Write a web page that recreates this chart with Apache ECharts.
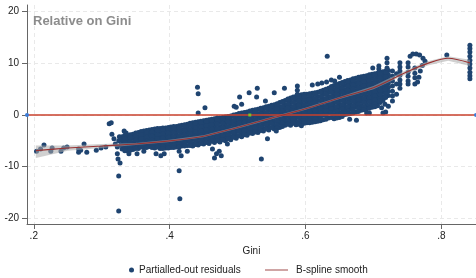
<!DOCTYPE html>
<html>
<head>
<meta charset="utf-8">
<script src="https://cdn.jsdelivr.net/npm/echarts@6/dist/echarts.min.js"></script>
<style>
  html, body { margin: 0; padding: 0; background: #fff; }
  #chart { width: 476px; height: 278px; }
</style>
</head>
<body>
<div id="chart"></div>
<script>
// axis ticks
const xTicks = [0.2, 0.4, 0.6, 0.8];
const yTicks = [-20, -10, 0, 10, 20];

// B-spline smooth and its band
const splineX = [0.203, 0.25, 0.30, 0.35, 0.40, 0.45, 0.50, 0.55, 0.60, 0.65, 0.70, 0.75, 0.78, 0.81, 0.842];
const splineY = [-6.9, -6.4, -6.0, -5.6, -5.0, -4.1, -2.4, -0.6, 1.2, 3.3, 5.3, 8.4, 10.0, 11.0, 10.1];
const ciLow   = [-8.3, -6.9, -6.4, -5.8, -5.2, -4.3, -2.6, -0.8, 1.0, 3.1, 5.0, 8.0, 9.6, 10.5, 9.5];
const ciHigh  = [-5.9, -5.9, -5.6, -5.4, -4.8, -3.9, -2.2, -0.4, 1.4, 3.5, 5.6, 8.8, 10.4, 11.4, 10.7];

// dense cloud, read column by column: [gini, residuals...]
const bandColumns = [
  [0.330, [-4.2, -5.0, -5.8, -6.6]],
  [0.338, [-4.0, -4.8, -5.6, -6.4, -6.9]],
  [0.346, [-3.7, -4.5, -5.3, -6.1, -6.7]],
  [0.354, [-3.4, -4.2, -5.0, -5.8, -6.5]],
  [0.362, [-3.1, -3.9, -4.7, -5.5, -6.3]],
  [0.370, [-2.9, -3.7, -4.5, -5.3, -6.1]],
  [0.378, [-2.7, -3.5, -4.3, -5.1, -5.9, -6.4]],
  [0.386, [-2.6, -3.4, -4.2, -5.0, -5.8, -6.5]],
  [0.394, [-2.5, -3.3, -4.1, -4.9, -5.7, -6.4]],
  [0.402, [-2.3, -3.1, -3.9, -4.7, -5.5, -6.3]],
  [0.410, [-2.2, -3.0, -3.8, -4.6, -5.4, -6.2]],
  [0.418, [-2.0, -2.8, -3.6, -4.4, -5.2, -6.0]],
  [0.426, [-1.8, -2.6, -3.4, -4.2, -5.0, -5.9]],
  [0.434, [-1.5, -2.3, -3.1, -3.9, -4.7, -5.5, -6.0]],
  [0.442, [-1.3, -2.1, -2.9, -3.7, -4.5, -5.3, -5.8]],
  [0.450, [-1.1, -1.9, -2.7, -3.5, -4.3, -5.1, -5.6]],
  [0.458, [-0.9, -1.7, -2.5, -3.3, -4.1, -4.9, -5.5]],
  [0.466, [-0.7, -1.5, -2.3, -3.1, -3.9, -4.7, -5.3]],
  [0.474, [-0.6, -1.4, -2.2, -3.0, -3.8, -4.6, -5.2]],
  [0.482, [-0.4, -1.2, -2.0, -2.8, -3.6, -4.4, -5.0]],
  [0.490, [-0.2, -1.0, -1.8, -2.6, -3.4, -4.2, -4.8]],
  [0.498, [0.1, -0.7, -1.5, -2.3, -3.1, -3.9, -4.5]],
  [0.506, [0.4, -0.4, -1.2, -2.0, -2.8, -3.6, -4.2]],
  [0.514, [0.6, -0.2, -1.0, -1.8, -2.6, -3.4, -3.9]],
  [0.522, [0.9, 0.1, -0.7, -1.5, -2.3, -3.1, -3.6]],
  [0.530, [1.1, 0.3, -0.5, -1.3, -2.1, -2.9, -3.4]],
  [0.538, [1.4, 0.6, -0.2, -1.0, -1.8, -2.6, -3.1]],
  [0.546, [1.7, 0.9, 0.1, -0.7, -1.5, -2.3, -2.9]],
  [0.554, [2.0, 1.2, 0.4, -0.4, -1.2, -2.0, -2.7]],
  [0.562, [2.4, 1.6, 0.8, 0.0, -0.8, -1.6, -2.4]],
  [0.570, [2.8, 2.0, 1.2, 0.4, -0.4, -1.2, -2.0]],
  [0.578, [3.3, 2.5, 1.7, 0.9, 0.1, -0.7, -1.5, -2.0]],
  [0.586, [3.6, 2.8, 2.0, 1.2, 0.4, -0.4, -1.2, -1.9]],
  [0.594, [3.9, 3.1, 2.3, 1.5, 0.7, -0.1, -0.9, -1.7]],
  [0.602, [4.0, 3.2, 2.4, 1.6, 0.8, 0.0, -0.8, -1.5]],
  [0.610, [4.2, 3.4, 2.6, 1.8, 1.0, 0.2, -0.6, -1.4]],
  [0.618, [4.4, 3.6, 2.8, 2.0, 1.2, 0.4, -0.4, -1.2]],
  [0.626, [4.8, 4.0, 3.2, 2.4, 1.6, 0.8, 0.0, -0.9]],
  [0.634, [5.2, 4.4, 3.6, 2.8, 2.0, 1.2, 0.4, -0.6]],
  [0.642, [5.7, 4.9, 4.1, 3.3, 2.5, 1.7, 0.9, 0.1, -0.7]],
  [0.650, [6.1, 5.3, 4.5, 3.7, 2.9, 2.1, 1.3, 0.5, -0.5]],
  [0.658, [6.5, 5.7, 4.9, 4.1, 3.3, 2.5, 1.7, 0.9, 0.1]],
  [0.666, [6.8, 6.0, 5.2, 4.4, 3.6, 2.8, 2.0, 1.2, 0.3]],
  [0.674, [7.1, 6.3, 5.5, 4.7, 3.9, 3.1, 2.3, 1.5, 0.6]],
  [0.682, [7.4, 6.6, 5.8, 5.0, 4.2, 3.4, 2.6, 1.8, 0.9]],
  [0.690, [7.6, 6.8, 6.0, 5.2, 4.4, 3.6, 2.8, 2.0, 1.2]],
  [0.698, [7.9, 7.1, 6.3, 5.5, 4.7, 3.9, 3.1, 2.3, 1.5]],
  [0.706, [8.1, 7.3, 6.5, 5.7, 4.9, 4.1, 3.3, 2.5, 1.8]],
  [0.714, [8.4, 7.6, 6.8, 6.0, 5.2, 4.4, 3.6, 2.8]],
  [0.722, [8.6, 7.8, 7.0, 6.2, 5.4, 4.6, 3.8]]
];

// the in-between columns of the same cloud
const bandColumnsMid = [
  [0.334, [-3.9, -4.6, -5.4, -6.2, -6.9]],
  [0.342, [-3.8, -4.4, -5.2, -6.0, -6.8]],
  [0.350, [-3.5, -4.1, -4.9, -5.7, -6.5]],
  [0.358, [-3.2, -3.8, -4.6, -5.4, -6.2]],
  [0.366, [-3.0, -3.5, -4.3, -5.1, -5.9, -6.3]],
  [0.374, [-2.8, -3.3, -4.1, -4.9, -5.7, -6.3]],
  [0.382, [-2.6, -3.0, -3.8, -4.6, -5.4, -6.2]],
  [0.390, [-2.5, -2.9, -3.7, -4.5, -5.3, -6.1, -6.5]],
  [0.398, [-2.4, -2.7, -3.5, -4.3, -5.1, -5.9, -6.4]],
  [0.406, [-2.2, -2.6, -3.4, -4.2, -5.0, -5.8, -6.3]],
  [0.414, [-2.1, -2.4, -3.2, -4.0, -4.8, -5.6, -6.2]],
  [0.422, [-1.9, -2.2, -3.0, -3.8, -4.6, -5.4, -6.0]],
  [0.430, [-1.6, -2.0, -2.8, -3.6, -4.4, -5.2, -5.9]],
  [0.438, [-1.4, -1.7, -2.5, -3.3, -4.1, -4.9, -5.7]],
  [0.446, [-1.2, -1.5, -2.3, -3.1, -3.9, -4.7, -5.5]],
  [0.454, [-1.0, -1.3, -2.1, -2.9, -3.7, -4.5, -5.3]],
  [0.462, [-0.8, -1.1, -1.9, -2.7, -3.5, -4.3, -5.1]],
  [0.470, [-0.6, -1.0, -1.8, -2.6, -3.4, -4.2, -5.0]],
  [0.478, [-0.5, -0.8, -1.6, -2.4, -3.2, -4.0, -4.8]],
  [0.486, [-0.3, -0.6, -1.4, -2.2, -3.0, -3.8, -4.6]],
  [0.494, [0.0, -0.3, -1.1, -1.9, -2.7, -3.5, -4.3]],
  [0.502, [0.3, 0.0, -0.8, -1.6, -2.4, -3.2, -4.0]],
  [0.510, [0.5, 0.2, -0.6, -1.4, -2.2, -3.0, -3.8]],
  [0.518, [0.8, 0.5, -0.3, -1.1, -1.9, -2.7, -3.5]],
  [0.526, [1.0, 0.7, -0.1, -0.9, -1.7, -2.5, -3.3]],
  [0.534, [1.3, 1.0, 0.2, -0.6, -1.4, -2.2, -3.0]],
  [0.542, [1.6, 1.3, 0.5, -0.3, -1.1, -1.9, -2.7]],
  [0.550, [1.9, 1.6, 0.8, 0.0, -0.8, -1.6, -2.4]],
  [0.558, [2.2, 2.0, 1.2, 0.4, -0.4, -1.2, -2.0, -2.5]],
  [0.566, [2.6, 2.4, 1.6, 0.8, 0.0, -0.8, -1.6, -2.2]],
  [0.574, [3.1, 2.9, 2.1, 1.3, 0.5, -0.3, -1.1, -1.8]],
  [0.582, [3.5, 3.2, 2.4, 1.6, 0.8, 0.0, -0.8, -1.6]],
  [0.590, [3.8, 3.5, 2.7, 1.9, 1.1, 0.3, -0.5, -1.3, -1.8]],
  [0.598, [4.0, 3.6, 2.8, 2.0, 1.2, 0.4, -0.4, -1.2, -1.6]],
  [0.606, [4.1, 3.8, 3.0, 2.2, 1.4, 0.6, -0.2, -1.0, -1.5]],
  [0.614, [4.3, 4.0, 3.2, 2.4, 1.6, 0.8, 0.0, -0.8, -1.3]],
  [0.622, [4.6, 4.4, 3.6, 2.8, 2.0, 1.2, 0.4, -0.4, -1.1]],
  [0.630, [5.0, 4.8, 4.0, 3.2, 2.4, 1.6, 0.8, 0.0, -0.8]],
  [0.638, [5.5, 5.2, 4.4, 3.6, 2.8, 2.0, 1.2, 0.4, -0.5]],
  [0.646, [5.9, 5.6, 4.8, 4.0, 3.2, 2.4, 1.6, 0.8, 0.0, -0.6]],
  [0.654, [6.3, 6.0, 5.2, 4.4, 3.6, 2.8, 2.0, 1.2, 0.4, -0.3]],
  [0.662, [6.7, 6.4, 5.6, 4.8, 4.0, 3.2, 2.4, 1.6, 0.8, 0.2]],
  [0.670, [7.0, 6.6, 5.8, 5.0, 4.2, 3.4, 2.6, 1.8, 1.0, 0.4]],
  [0.678, [7.3, 6.9, 6.1, 5.3, 4.5, 3.7, 2.9, 2.1, 1.3, 0.7]],
  [0.686, [7.5, 7.2, 6.4, 5.6, 4.8, 4.0, 3.2, 2.4, 1.6, 1.0]],
  [0.694, [7.8, 7.4, 6.6, 5.8, 5.0, 4.2, 3.4, 2.6, 1.8, 1.3]],
  [0.702, [8.0, 7.7, 6.9, 6.1, 5.3, 4.5, 3.7, 2.9, 2.1, 1.6]],
  [0.710, [8.3, 7.9, 7.1, 6.3, 5.5, 4.7, 3.9, 3.1, 2.4]],
  [0.718, [8.5, 8.2, 7.4, 6.6, 5.8, 5.0, 4.2, 3.4]]
];

// scattered points away from the cloud
const outlierPoints = [
  [0.204, -7.0], [0.210, -6.6], [0.215, -5.8], [0.225, -7.0], [0.227, -6.4], [0.240, -7.0],
  [0.244, -6.4], [0.249, -6.2], [0.266, -6.6], [0.266, -7.2], [0.269, -6.8], [0.274, -5.6],
  [0.278, -7.2], [0.292, -6.8], [0.299, -6.4], [0.306, -6.2], [0.311, -1.7], [0.314, -1.5],
  [0.315, -3.7], [0.318, -4.6], [0.320, -5.6], [0.323, -6.2], [0.325, -5.0], [0.328, -5.8],
  [0.326, -4.2], [0.323, -7.5], [0.324, -8.5], [0.327, -9.3], [0.325, -11.8], [0.325, -18.6],
  [0.333, -3.1], [0.336, -3.5], [0.340, -7.5], [0.352, -7.5], [0.362, -7.0], [0.380, -7.5],
  [0.387, -7.9], [0.392, -7.5], [0.414, -7.0], [0.417, -7.9], [0.414, -10.8], [0.415, -16.2],
  [0.426, -7.0], [0.441, 5.4], [0.442, 4.1], [0.442, 0.4], [0.452, 1.4], [0.463, -6.6],
  [0.469, -7.5], [0.473, -7.0], [0.466, -8.3], [0.476, -7.9], [0.485, -5.6], [0.495, 1.7],
  [0.503, 3.5], [0.506, 2.1], [0.498, 1.5], [0.517, 4.3], [0.528, 3.5], [0.529, 5.2],
  [0.535, -8.5], [0.541, 2.7], [0.544, -4.6], [0.554, 4.3], [0.557, -3.1], [0.569, 5.2],
  [0.588, 5.6], [0.588, 4.8], [0.588, 4.0], [0.594, -2.1], [0.610, 5.8], [0.618, 6.0],
  [0.624, 6.2], [0.631, 6.4], [0.638, 6.8], [0.643, 6.6], [0.650, 7.3], [0.632, 11.4],
  [0.665, -0.8], [0.675, -1.0], [0.690, 0.4], [0.694, 0.4], [0.699, 9.1], [0.712, 1.4],
  [0.714, 0.4], [0.709, 2.7], [0.718, 0.6], [0.722, 1.7]
];

// sparse columns at the top end
const rightTailPoints = [
  [0.708, 9.5], [0.708, 8.9], [0.717, 6.4], [0.717, 5.0], [0.717, 3.5], [0.717, 2.1],
  [0.720, 11.0], [0.720, 10.1], [0.720, 9.1],
  [0.728, 8.5], [0.728, 7.5], [0.728, 6.6], [0.728, 5.6], [0.728, 4.6], [0.728, 3.7], [0.728, 2.7],
  [0.734, 8.0], [0.734, 6.0], [0.734, 4.0],
  [0.739, 10.1], [0.739, 9.3], [0.739, 8.5], [0.739, 7.7], [0.739, 6.8], [0.739, 6.0], [0.739, 5.2],
  [0.751, 10.1], [0.751, 9.3], [0.751, 8.3], [0.751, 7.5], [0.751, 6.6], [0.751, 6.0],
  [0.754, 11.4], [0.758, 11.8], [0.763, 11.8], [0.768, 11.6], [0.773, 11.0], [0.776, 10.4],
  [0.761, 9.1], [0.761, 8.1], [0.761, 7.2], [0.761, 6.0],
  [0.772, 9.6], [0.769, 8.5], [0.767, 7.3], [0.765, 6.4],
  [0.808, 11.6],
  [0.842, 13.5], [0.842, 12.9], [0.842, 12.2], [0.842, 11.4], [0.842, 10.6],
  [0.842, 9.9], [0.842, 9.1], [0.842, 8.3], [0.842, 7.6], [0.842, 7.0]
];

const xMin = 0.190, xMax = 0.851;
const yMin = -21.1, yMax = 21.3;

const residuals = [];
bandColumns.concat(bandColumnsMid).forEach(([x, ys]) => ys.forEach(y => residuals.push([x, y])));
outlierPoints.forEach(p => residuals.push(p));
rightTailPoints.forEach(p => residuals.push(p));

const FONT = 'Liberation Sans, Arial, Helvetica, sans-serif';
const NAVY = '#1f4470';
const DARKRED = '#983232';

const chart = echarts.init(document.getElementById('chart'), null, { renderer: 'canvas' });

chart.setOption({
  animation: false,
  backgroundColor: '#fff',
  textStyle: { fontFamily: FONT },
  title: {
    text: 'Relative on Gini',
    left: 33, top: 15, padding: 0,
    textStyle: { fontFamily: FONT, fontSize: 13, fontWeight: 'bold', color: '#8c8c8c' }
  },
  grid: { left: 27, right: 0, top: 5, bottom: 54, containLabel: false },
  legend: [
    {
      data: [{ name: 'Partialled-out residuals', icon: 'circle' }],
      left: 129, top: 265, padding: 0,
      itemWidth: 5, itemHeight: 5, itemGap: 5,
      textStyle: { fontFamily: FONT, fontSize: 10, color: '#222' }
    },
    {
      data: [{ name: 'B-spline smooth', icon: 'rect', itemStyle: { color: '#b06a6a' } }],
      left: 265, top: 265, padding: 0,
      itemWidth: 23, itemHeight: 1.2,
      textStyle: { fontFamily: FONT, fontSize: 10, color: '#222', padding: [0, 0, 0, 3] }
    }
  ],
  xAxis: {
    type: 'value', min: xMin, max: xMax,
    name: 'Gini', nameLocation: 'middle', nameGap: 21,
    nameTextStyle: { fontFamily: FONT, fontSize: 10, color: '#222' },
    axisLine: { show: true, onZero: false, lineStyle: { color: '#666', width: 1 } },
    axisTick: { show: true, length: 5, customValues: xTicks, lineStyle: { color: '#666' } },
    axisLabel: {
      customValues: xTicks, margin: 7, fontSize: 10, color: '#222', fontFamily: FONT,
      formatter: v => v.toFixed(1).replace(/^0/, '')
    },
    splitLine: { show: true, lineStyle: { color: '#e9e9e9', type: [4, 3], width: 1 } }
  },
  yAxis: {
    type: 'value', min: yMin, max: yMax,
    axisLine: { show: true, onZero: false, lineStyle: { color: '#666', width: 1 } },
    axisTick: { show: true, length: 5, customValues: yTicks, lineStyle: { color: '#666' } },
    axisLabel: { customValues: yTicks, margin: 8, fontSize: 10, color: '#222', fontFamily: FONT },
    splitLine: { show: true, lineStyle: { color: '#e9e9e9', type: [4, 3], width: 1 } }
  },
  series: [
    {
      name: 'Partialled-out residuals',
      type: 'scatter',
      data: residuals,
      symbol: 'circle',
      symbolSize: 5,
      large: false,
      itemStyle: { color: NAVY, opacity: 1 },
      z: 2
    },
    {
      name: 'ci',
      type: 'custom',
      data: [0],
      clip: true,
      z: 3,
      renderItem: (params, api) => {
        const upper = splineX.map((x, i) => api.coord([x, ciHigh[i]]));
        const lower = splineX.map((x, i) => api.coord([x, ciLow[i]])).reverse();
        return {
          type: 'polygon',
          shape: { points: upper.concat(lower) },
          style: { fill: 'rgba(170,170,170,0.55)' }
        };
      }
    },
    {
      name: 'zero',
      type: 'line',
      data: [[xMin, 0], [xMax, 0]],
      symbol: 'circle',
      symbolSize: 4,
      showSymbol: true,
      clip: false,
      itemStyle: { color: '#3b7dd8' },
      lineStyle: { color: '#c8412c', width: 1.4 },
      z: 4
    },
    {
      name: 'B-spline smooth',
      type: 'line',
      data: splineX.map((x, i) => [x, splineY[i]]),
      smooth: 0.3,
      symbol: 'none',
      itemStyle: { color: DARKRED },
      lineStyle: { color: DARKRED, width: 1.1 },
      z: 5
    },
    {
      name: 'mark',
      type: 'scatter',
      data: [[0.518, 0.0]],
      symbol: 'rect',
      symbolSize: 3,
      itemStyle: { color: '#7ddc1f' },
      z: 6
    }
  ]
});
</script>
</body>
</html>
